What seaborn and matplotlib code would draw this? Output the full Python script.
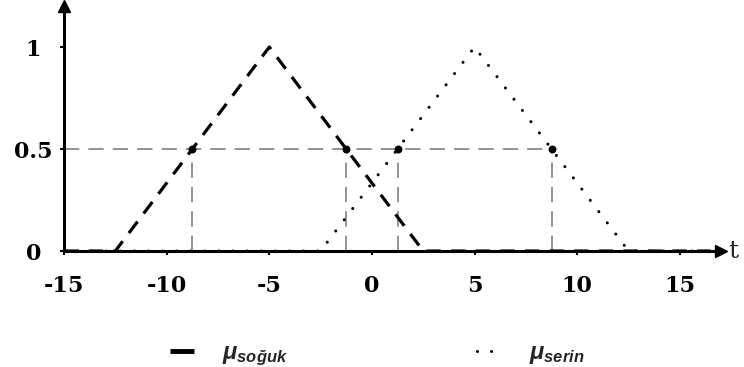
import numpy as np
import pandas as pd
import matplotlib
matplotlib.use("Agg")
import matplotlib.pyplot as plt
from matplotlib.lines import Line2D
import seaborn as sns

# Membership functions (triangular) sampled at their break points
t_soguk = [-15.0, -12.5, -5.0, 2.5, 16.5]
mu_soguk = [0.0, 0.0, 1.0, 0.0, 0.0]
t_serin = [-15.0, -2.5, 5.0, 12.5, 16.5]
mu_serin = [0.0, 0.0, 1.0, 0.0, 0.0]

# Points where the membership equals 0.5
cut_level = 0.5
cut_t = [-8.75, -1.25, 1.25, 8.75]

x_ticks = [-15, -10, -5, 0, 5, 10, 15]
y_ticks = [0, 0.5, 1]
y_tick_labels = ["0", "0.5", "1"]

sns.set_theme(style="white")
plt.rcParams["mathtext.fontset"] = "custom"
plt.rcParams["mathtext.it"] = "Liberation Sans:italic:bold"
plt.rcParams["mathtext.rm"] = "Liberation Sans:italic:bold"

fig = plt.figure(figsize=(7.44, 3.67), dpi=100)
ax = fig.add_axes([0.086, 0.316, 0.883, 0.667])

df_sog = pd.DataFrame({"t": t_soguk, "mu": mu_soguk})
df_ser = pd.DataFrame({"t": t_serin, "mu": mu_serin})

# Helper lines at the 0.5 level
ax.plot([x_ticks[0], max(cut_t)], [cut_level, cut_level], color="#8a8a8a",
        lw=1.3, linestyle=(0, (8.5, 5)), zorder=1)
for c in cut_t:
    ax.plot([c, c], [0, cut_level], color="#8a8a8a", lw=1.3,
            linestyle=(0, (8.5, 5)), zorder=1)

sns.lineplot(data=df_sog, x="t", y="mu", ax=ax, color="black", lw=2.3,
             linestyle=(0, (4.5, 3.2)), sort=False, zorder=3)
sns.lineplot(data=df_ser, x="t", y="mu", ax=ax, color="black", lw=2.2,
             linestyle=(0, (0.01, 4.6)), dash_capstyle="round", sort=False,
             zorder=3)

ax.scatter(cut_t, [cut_level] * len(cut_t), s=22, color="black", zorder=4)

ax.set_xlim(-15, 17)
ax.set_ylim(0, 1.2)
ax.set_xlabel("")
ax.set_ylabel("")

for side in ("top", "right"):
    ax.spines[side].set_visible(False)
for side in ("left", "bottom"):
    ax.spines[side].set_linewidth(2.2)
    ax.spines[side].set_color("black")

# Axis arrows
ax.plot(1, 0, marker=">", ms=9, color="black", transform=ax.transAxes,
        clip_on=False)
ax.plot(0, 1, marker="^", ms=9, color="black", transform=ax.transAxes,
        clip_on=False)

ax.set_xticks(x_ticks)
ax.set_xticklabels([str(v) for v in x_ticks])
ax.set_yticks(y_ticks)
ax.set_yticklabels(y_tick_labels)
ax.tick_params(axis="both", direction="out", length=3, width=1.5,
               color="black", labelcolor="black")
ax.tick_params(axis="x", bottom=True, pad=14)
ax.tick_params(axis="y", left=True, pad=19)
for lab in ax.get_xticklabels() + ax.get_yticklabels():
    lab.set_fontfamily("DejaVu Serif")
    lab.set_fontweight("bold")
    lab.set_fontsize(16)
for lab in ax.get_yticklabels():
    lab.set_horizontalalignment("center")

ax.text(17.35, 0, "t", fontsize=18, family="DejaVu Serif", va="center",
        ha="left", clip_on=False)

handles = [
    Line2D([], [], color="black", lw=3.5, solid_capstyle="butt"),
    Line2D([], [], color="black", lw=2.2, linestyle=(0, (0.01, 4.6)),
           dash_capstyle="round"),
]
labels = [r"$\mathit{μ}_{\mathit{soğuk}}$", r"$\mathit{μ}_{\mathit{serin}}$"]
fig.legend(handles, labels, loc="center", bbox_to_anchor=(0.507, 0.035),
           ncol=2, frameon=False, fontsize=17, handlelength=1.0,
           handletextpad=1.2, columnspacing=8.0)

fig.savefig("out.png", dpi=100)
